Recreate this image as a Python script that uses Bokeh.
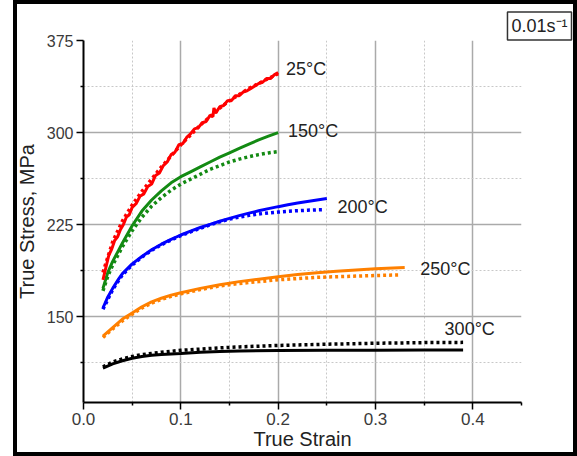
from bokeh.plotting import figure
from bokeh.models import (FixedTicker, PrintfTickFormatter, Label, InlineStyleSheet)
from bokeh.embed import file_html
from bokeh.resources import INLINE

# ---------------- data ----------------
# 25 C experimental (noisy) and model
red_exp_x = [0.020, 0.023, 0.026, 0.029, 0.032, 0.035, 0.038, 0.041, 0.044, 0.047,
             0.050, 0.054, 0.058, 0.062, 0.066, 0.070, 0.074, 0.078, 0.082, 0.086,
             0.090, 0.094, 0.098, 0.102, 0.106, 0.110, 0.114, 0.118, 0.122, 0.126,
             0.130, 0.133, 0.134, 0.136, 0.140, 0.144, 0.148, 0.152, 0.156, 0.160,
             0.164, 0.168, 0.172, 0.176, 0.180, 0.184, 0.188, 0.192, 0.196, 0.200]
red_exp_y = [180, 190, 200, 205, 212, 215, 221, 225, 231, 233,
             239, 242, 248, 250, 256, 258, 265, 267, 273, 276,
             282, 284, 290, 291, 296, 299, 303, 304, 308, 309,
             314, 313, 320, 316, 321, 322, 326, 326, 330, 330,
             333, 334, 336, 338, 340, 341, 344, 344, 347, 349]
red_mod_x = [0.02, 0.03, 0.04, 0.05, 0.06, 0.07, 0.08, 0.09, 0.10, 0.11,
             0.12, 0.13, 0.14, 0.15, 0.16, 0.17, 0.18, 0.19, 0.20]
red_mod_y = [186, 211, 228, 241, 252, 262, 272, 281, 290, 298,
             306, 313, 320, 326, 331, 336, 340, 344, 348]

green_exp_x = [0.02, 0.025, 0.03, 0.036, 0.04, 0.05, 0.06, 0.07, 0.08, 0.09, 0.10,
               0.11, 0.12, 0.13, 0.14, 0.15, 0.16, 0.17, 0.18, 0.19, 0.20]
green_exp_y = [173, 186, 195, 204, 210, 224, 236, 245, 252.5, 259, 264,
               268, 272, 276, 280, 283.5, 287, 290.5, 294, 297, 300]
green_mod_x = [0.02, 0.025, 0.03, 0.036, 0.04, 0.05, 0.06, 0.07, 0.08, 0.09, 0.10,
               0.11, 0.12, 0.13, 0.14, 0.15, 0.16, 0.17, 0.18, 0.19, 0.20]
green_mod_y = [171, 183, 192, 201, 207, 220, 231, 240, 247, 253, 258,
               262, 266, 270, 273, 276, 278.3, 280.3, 282, 283.4, 284.5]

blue_exp_x = [0.02, 0.025, 0.03, 0.036, 0.04, 0.05, 0.06, 0.07, 0.08, 0.09, 0.10,
              0.11, 0.12, 0.13, 0.14, 0.15, 0.16, 0.17, 0.18, 0.19, 0.20,
              0.21, 0.22, 0.23, 0.24, 0.25]
blue_exp_y = [157, 166, 173, 180.5, 185, 193, 199, 204.5, 209, 213, 216.5,
              219.7, 222.6, 225.2, 227.7, 230, 232.3, 234.3, 236.2, 238, 239.6,
              241.1, 242.5, 243.8, 245.1, 246.3]
blue_mod_x = [0.02, 0.03, 0.04, 0.05, 0.06, 0.07, 0.08, 0.09, 0.10, 0.11,
              0.12, 0.13, 0.14, 0.15, 0.16, 0.17, 0.18, 0.19, 0.20, 0.21,
              0.22, 0.23, 0.24, 0.245]
blue_mod_y = [156, 172, 184, 192, 198.5, 204, 208.5, 212.5, 216, 219,
              222, 224.8, 227.3, 229.4, 231.1, 232.5, 233.6, 234.5, 235.2, 235.8,
              236.3, 236.7, 237, 237.1]

orange_exp_x = [0.02, 0.03, 0.04, 0.05, 0.06, 0.07, 0.08, 0.09, 0.10, 0.12,
                0.14, 0.16, 0.18, 0.20, 0.22, 0.24, 0.26, 0.28, 0.30, 0.33]
orange_exp_y = [134, 141, 148, 153, 158, 162, 165, 167.5, 169.5, 173,
                176, 178.5, 180.5, 182.5, 184.3, 185.8, 187, 188, 189, 190]
orange_mod_x = [0.02, 0.03, 0.04, 0.05, 0.06, 0.07, 0.08, 0.09, 0.10, 0.12,
                0.14, 0.16, 0.18, 0.20, 0.22, 0.24, 0.26, 0.28, 0.30, 0.325]
orange_mod_y = [133, 140, 146.5, 152, 157, 161, 164, 166.5, 168.5, 172,
                175, 177, 178.5, 180, 181, 182, 182.5, 183, 183.5, 184]

black_exp_x = [0.02, 0.03, 0.04, 0.05, 0.06, 0.07, 0.08, 0.10, 0.12, 0.14,
               0.16, 0.20, 0.25, 0.30, 0.35, 0.39]
black_exp_y = [108, 111.5, 114, 116, 117.5, 118.5, 119.2, 120, 121, 121.5,
               122, 122.3, 122.5, 122.5, 122.7, 122.8]
black_mod_x = [0.02, 0.03, 0.04, 0.05, 0.06, 0.08, 0.10, 0.12, 0.14, 0.16,
               0.20, 0.25, 0.30, 0.35, 0.39]
black_mod_y = [109, 113, 115.5, 117.5, 119, 121, 122.5, 123.5, 124.5, 125.3,
               126.5, 127.5, 128.3, 128.8, 129]

temp_labels = ["25°C", "150°C", "200°C", "250°C", "300°C"]
label_x = [0.208, 0.210, 0.261, 0.346, 0.371]
label_y = [351.4, 301.6, 239.1, 188.9, 139.6]

x_major = [0.0, 0.1, 0.2, 0.3, 0.4]
x_minor = [0.05, 0.15, 0.25, 0.35, 0.45]
y_major = [150, 225, 300, 375]
y_minor = [112.5, 187.5, 262.5, 337.5]

rate_text = "0.01s\u207b\u00b9"

FONT = "Liberation Sans"

p = figure(width=577, height=456, x_range=(0, 0.45), y_range=(80, 375),
           output_backend="svg", toolbar_location=None,
           min_border_left=83, min_border_right=56, min_border_top=40,
           min_border_bottom=54)
p.outline_line_color = None
p.background_fill_color = "white"
p.border_fill_color = "white"

# strain-rate box as title
p.title.text = rate_text
p.title.align = "right"
p.title.offset = -50
p.title.standoff = 1
p.title.text_font = FONT
p.title.text_font_size = "18px"
p.title.text_font_style = "normal"
p.title.text_color = "#222222"
p.title.border_line_color = "#333333"
p.title.border_line_width = 1.5
p.title.background_fill_color = "white"
p.title.padding = 4

# axes
p.xaxis.ticker = FixedTicker(ticks=x_major, minor_ticks=x_minor)
p.yaxis.ticker = FixedTicker(ticks=y_major, minor_ticks=y_minor)
p.xaxis.formatter = PrintfTickFormatter(format="%.1f")
p.yaxis.formatter = PrintfTickFormatter(format="%d")
for ax in (p.xaxis[0], p.yaxis[0]):
    ax.axis_line_width = 2
    ax.axis_line_color = "black"
    ax.major_tick_line_color = "black"
    ax.minor_tick_line_color = "black"
    ax.major_tick_line_width = 1.5
    ax.minor_tick_line_width = 1.5
    ax.major_tick_in = 0
    ax.major_tick_out = 7
    ax.minor_tick_in = 0
    ax.minor_tick_out = 3
    ax.major_label_text_font = FONT
    ax.major_label_text_color = "#3a3a3a"
    ax.axis_label_text_font = FONT
    ax.axis_label_text_font_size = "20px"
    ax.axis_label_text_font_style = "normal"
    ax.axis_label_text_color = "#222222"
p.xaxis.major_label_text_font_size = "17px"
p.yaxis.major_label_text_font_size = "16px"
p.xaxis.axis_label = "True Strain"
p.yaxis.axis_label = "True Stress, MPa"
p.xaxis.major_label_standoff = 3
p.xaxis.axis_label_standoff = 0
p.yaxis.major_label_standoff = 3
p.yaxis.axis_label_standoff = 6

# grids
p.xgrid.ticker = FixedTicker(ticks=x_major[1:], minor_ticks=x_minor[:-1])
p.ygrid.ticker = FixedTicker(ticks=y_major[:-1], minor_ticks=y_minor)
for g in (p.xgrid[0], p.ygrid[0]):
    g.grid_line_color = "#aaaaaa"
    g.grid_line_width = 1.5
    g.minor_grid_line_color = "#c8c8c8"
    g.minor_grid_line_width = 1
    g.minor_grid_line_dash = "2 2"

DOT = "3 3"
series = [
    (green_exp_x, green_exp_y, green_mod_x, green_mod_y, "#138a13"),
    (blue_exp_x, blue_exp_y, blue_mod_x, blue_mod_y, "#0000ff"),
    (orange_exp_x, orange_exp_y, orange_mod_x, orange_mod_y, "#ff8000"),
    (black_exp_x, black_exp_y, black_mod_x, black_mod_y, "#000000"),
]
for ex, ey, mx, my, c in series:
    p.line(ex, ey, line_color=c, line_width=3)
    p.line(mx, my, line_color=c, line_width=3.5, line_dash=DOT)

p.line(red_mod_x, red_mod_y, line_color="#ff0000", line_width=3.5, line_dash=DOT)
p.line(red_exp_x, red_exp_y, line_color="#ff0000", line_width=3)

for t, lx, ly in zip(temp_labels, label_x, label_y):
    p.add_layout(Label(x=lx, y=ly, text=t, text_font=FONT, text_font_size="18px",
                       text_color="#222222", text_baseline="middle", text_align="left"))

# outer frame drawn around the whole picture
p.stylesheets = [InlineStyleSheet(css="""
:host::after {
  content: "";
  position: absolute;
  left: 13px;
  top: 0px;
  width: 564px;
  height: 456px;
  border: 4px solid black;
  box-sizing: border-box;
  pointer-events: none;
}
""")]

open("out.html", "w").write(file_html(p, INLINE))
